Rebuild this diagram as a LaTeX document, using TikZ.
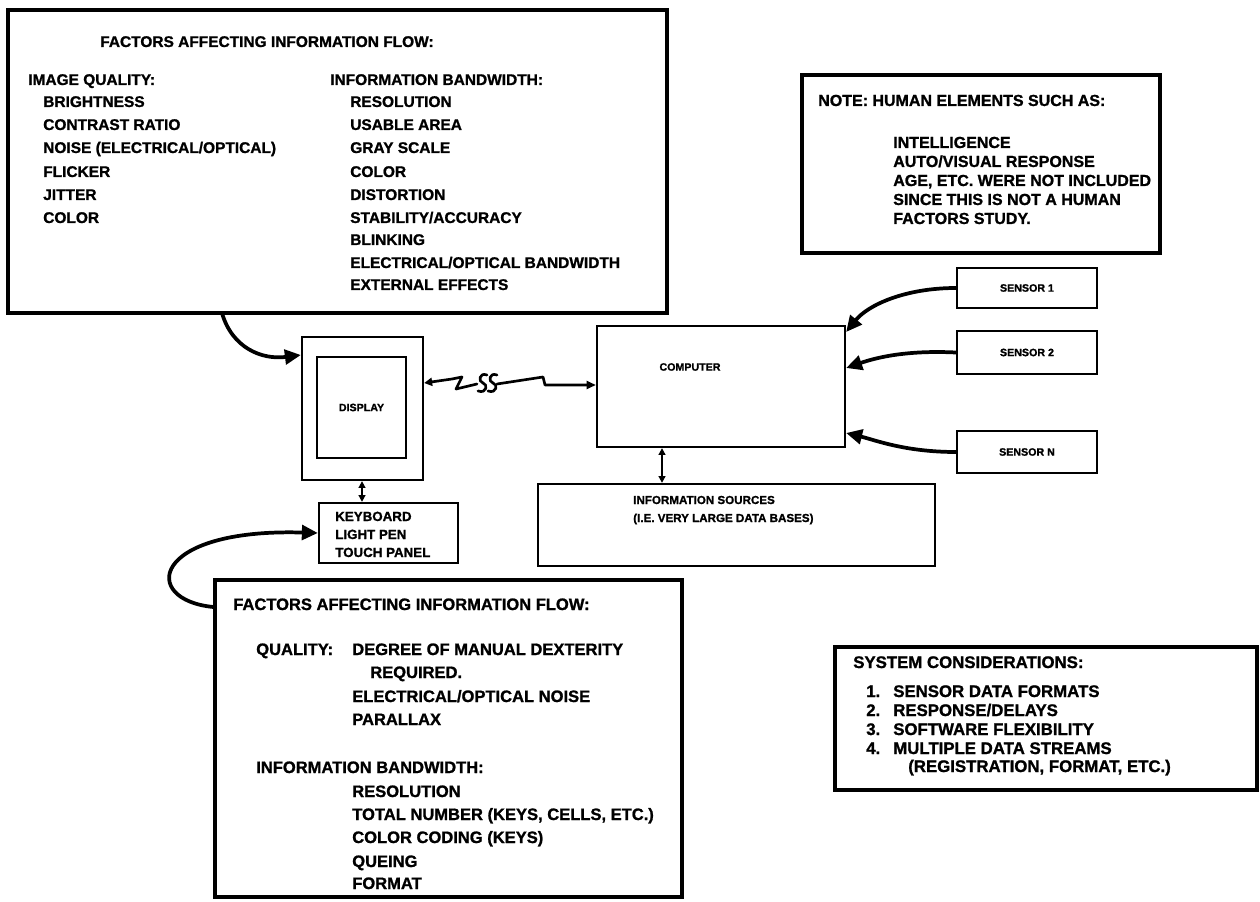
\documentclass[tikz,border=0pt]{standalone}
\usepackage{fontspec}
\setmainfont{Liberation Sans}[BoldFeatures={FakeBold=1.2}]
\usetikzlibrary{arrows.meta,fit}
\begin{document}
\begin{tikzpicture}[x=0.75pt,y=-0.75pt,
  bigbox/.style={draw, line width=2.4pt, inner sep=0pt},
  thinbox/.style={draw, line width=1.7pt, inner sep=0pt},
  txt/.style={anchor=base west, inner sep=0pt, font=\bfseries\fontsize{11.6}{13}\selectfont},
  btxt/.style={anchor=base west, inner sep=0pt, font=\bfseries\fontsize{12.4}{14}\selectfont},
  ntxt/.style={anchor=base west, inner sep=0pt, font=\bfseries\fontsize{12}{13}\selectfont},
  stxt/.style={anchor=base west, inner sep=0pt, font=\bfseries\fontsize{12.6}{14}\selectfont},
  small/.style={inner sep=0pt, font=\bfseries\fontsize{8}{9}\selectfont},
  itxt/.style={anchor=base west, inner sep=0pt, font=\bfseries\fontsize{8.7}{10}\selectfont},
  kbtxt/.style={anchor=base west, inner sep=0pt, font=\bfseries\fontsize{10}{11}\selectfont},
  conn/.style={line width=2.8pt, -{Triangle[length=12pt,width=11pt]}},
  dbl/.style={line width=1.8pt, {Triangle[length=5pt,width=5pt]}-{Triangle[length=5pt,width=5pt]}},
  wire/.style={line width=2pt, line join=round, line cap=round}]
\useasboundingbox (0,0) rectangle (1260,902);
\fill[white] (0,0) rectangle (1260,902);

% ---------- boxes ----------
\node[bigbox, fit={(8,10) (667,313)}] (top) {};
\node[bigbox, fit={(802,75) (1160,253)}] (note) {};
\node[thinbox, fit={(957,268) (1097,308)}] (s1) {};
\node[thinbox, fit={(957,331) (1097,374)}] (s2) {};
\node[thinbox, fit={(957,431) (1097,473)}] (sn) {};
\node[thinbox, fit={(597,326) (845,447)}] (comp) {};
\node[thinbox, fit={(302,337) (423,480)}] (disp) {};
\node[thinbox, fit={(317,357) (406,458)}] (dispin) {};
\node[thinbox, fit={(319,503) (458,563)}] (kb) {};
\node[thinbox, fit={(538,484) (935,566)}] (info) {};
\node[bigbox, fit={(215,580) (682,897)}] (bot) {};
\node[bigbox, fit={(835,647) (1257,790)}] (sys) {};

% ---------- top box text ----------
\node[txt] (t0) at (100,47) {FACTORS AFFECTING INFORMATION FLOW:};
\node[txt] (t1) at (28,85) {IMAGE QUALITY:};
\node[txt] at (43,107) {BRIGHTNESS};
\node[txt] at (43,130) {CONTRAST RATIO};
\node[txt] at (43,153) {NOISE (ELECTRICAL/OPTICAL)};
\node[txt] at (43,177) {FLICKER};
\node[txt] at (43,200) {JITTER};
\node[txt] at (43,223) {COLOR};
\node[txt] (t2) at (330,85) {INFORMATION BANDWIDTH:};
\node[txt] at (350,107) {RESOLUTION};
\node[txt] at (350,130) {USABLE AREA};
\node[txt] at (350,153) {GRAY SCALE};
\node[txt] at (350,177) {COLOR};
\node[txt] at (350,200) {DISTORTION};
\node[txt] at (350,223) {STABILITY/ACCURACY};
\node[txt] at (350,245) {BLINKING};
\node[txt] at (350,268) {ELECTRICAL/OPTICAL BANDWIDTH};
\node[txt] at (350,290) {EXTERNAL EFFECTS};

% ---------- note ----------
\node[ntxt] at (818,106) {NOTE: HUMAN ELEMENTS SUCH AS:};
\node[ntxt] at (893,148) {INTELLIGENCE};
\node[ntxt] at (893,167) {AUTO/VISUAL RESPONSE};
\node[ntxt] at (893,186) {AGE, ETC. WERE NOT INCLUDED};
\node[ntxt] at (893,205) {SINCE THIS IS NOT A HUMAN};
\node[ntxt] at (893,224) {FACTORS STUDY.};

% ---------- small labels ----------
\node[small] at (s1.center) {SENSOR 1};
\node[small] at (s2.center) {SENSOR 2};
\node[small] at (sn.center) {SENSOR N};
\node[small] at (690,367) {COMPUTER};
\node[small] at (dispin.center) {DISPLAY};
\node[kbtxt] at (335,521) {KEYBOARD};
\node[kbtxt] at (335,539) {LIGHT PEN};
\node[kbtxt] at (335,557) {TOUCH PANEL};
\node[itxt] at (633,504) {INFORMATION SOURCES};
\node[itxt] at (633,522) {(I.E. VERY LARGE DATA BASES)};

% ---------- bottom box text ----------
\node[btxt] at (233,610) {FACTORS AFFECTING INFORMATION FLOW:};
\node[btxt] at (256,655) {QUALITY:};
\node[btxt] at (352,655) {DEGREE OF MANUAL DEXTERITY};
\node[btxt] at (370,678) {REQUIRED.};
\node[btxt] at (352,702) {ELECTRICAL/OPTICAL NOISE};
\node[btxt] at (352,725) {PARALLAX};
\node[btxt] at (256,773) {INFORMATION BANDWIDTH:};
\node[btxt] at (352,797) {RESOLUTION};
\node[btxt] at (352,820) {TOTAL NUMBER (KEYS, CELLS, ETC.)};
\node[btxt] at (352,843) {COLOR CODING (KEYS)};
\node[btxt] at (352,867) {QUEING};
\node[btxt] at (352,889) {FORMAT};

% ---------- system considerations ----------
\node[stxt] at (853,668) {SYSTEM CONSIDERATIONS:};
\node[stxt] at (866,697) {1.};
\node[stxt] at (893,697) {SENSOR DATA FORMATS};
\node[stxt] at (866,716) {2.};
\node[stxt] at (893,716) {RESPONSE/DELAYS};
\node[stxt] at (866,735) {3.};
\node[stxt] at (893,735) {SOFTWARE FLEXIBILITY};
\node[stxt] at (866,754) {4.};
\node[stxt] at (893,754) {MULTIPLE DATA STREAMS};
\node[stxt] at (908,772) {(REGISTRATION, FORMAT, ETC.)};

% ---------- connectors ----------
\coordinate (a1) at (222,313);
\draw[conn] (a1) .. controls (232,348) and (262,360) .. (disp.west |- 0,355);
\coordinate (a2) at (215,607);
\draw[conn] (bot.west |- a2) .. controls (140,600) and (150,528) .. (kb.west |- 0,533);
\draw[conn] (s1.west) .. controls (905,288) and (868,305) .. (comp.east |- 0,332);
\draw[conn] (s2.west) .. controls (905,350) and (875,358) .. (comp.east |- 0,368);
\draw[conn] (sn.west) .. controls (905,452) and (875,440) .. (comp.east |- 0,433);
\draw[dbl] (disp.south -| 362,0) -- (kb.north -| 362,0);
\draw[dbl] (comp.south -| 662,0) -- (info.north -| 662,0);

% display - computer link with break marks
\coordinate (q1) at (452,379);
\coordinate (q2) at (497,384);
\draw[wire, {Triangle[length=6pt,width=6pt]}-] (disp.east |- 0,383) -- (q1) -- (462,377) -- (456,389) -- (477,384);
\draw[wire] (487,375) .. controls (479,372) and (478,382) .. (483,383) .. controls (488,384) and (487,394) .. (478,391);
\draw[wire] (497,375) .. controls (489,372) and (488,382) .. (493,383) .. controls (498,384) and (497,394) .. (488,391);
\draw[wire, -{Triangle[length=7pt,width=6pt]}] (q2) -- (543,377) -- (545,385) -- (comp.west |- 0,385);
\end{tikzpicture}
\end{document}
